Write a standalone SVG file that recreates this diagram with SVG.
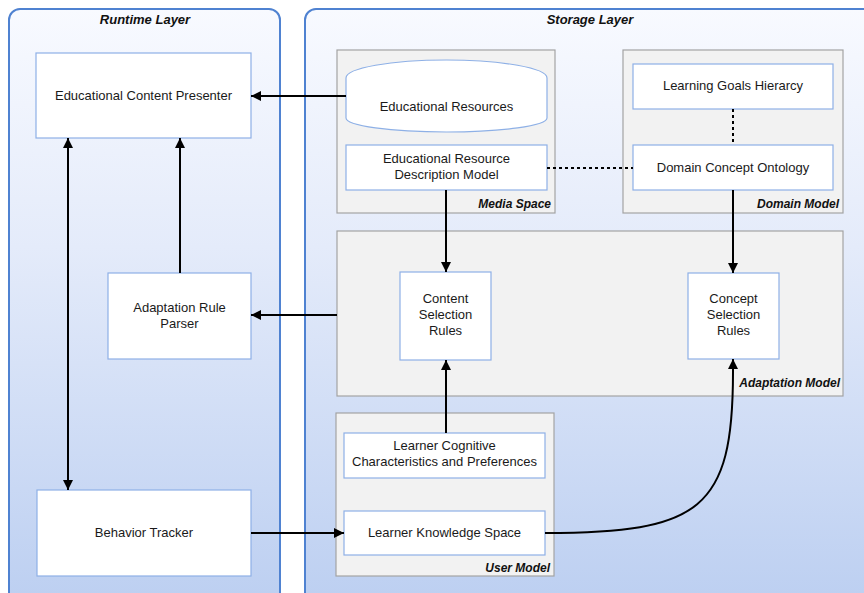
<svg xmlns="http://www.w3.org/2000/svg" width="864" height="593" viewBox="0 0 864 593">
  <defs>
    <linearGradient id="layerFill" x1="0" y1="0" x2="0" y2="1">
      <stop offset="0" stop-color="#f8faff"/>
      <stop offset="0.4" stop-color="#e4ebfa"/>
      <stop offset="1" stop-color="#bccff1"/>
    </linearGradient>
    <marker id="arrow" viewBox="0 0 10 10" refX="10" refY="5" markerWidth="11" markerHeight="10" markerUnits="userSpaceOnUse" orient="auto-start-reverse">
      <path d="M0,0 L10,5 L0,10 Z" fill="#000"/>
    </marker>
    <style>
      .layer { fill: url(#layerFill); stroke: #4f82d1; stroke-width: 2; }
      .group { fill: #f2f2f2; stroke: #a3a3a3; stroke-width: 1.2; }
      .box { fill: #ffffff; stroke: #8eb0e6; stroke-width: 1.2; }
      .label { font-family: "Liberation Sans", Arial, sans-serif; font-size: 13px; fill: #1a1a1a; text-anchor: middle; }
      .title { font-family: "Liberation Sans", Arial, sans-serif; font-size: 13px; font-weight: bold; font-style: italic; fill: #111; text-anchor: middle; }
      .tag { font-family: "Liberation Sans", Arial, sans-serif; font-size: 12px; font-weight: bold; font-style: italic; fill: #111; text-anchor: end; }
      .link { fill: none; stroke: #000; stroke-width: 2; }
      .dotted { fill: none; stroke: #000; stroke-width: 2; stroke-dasharray: 3 3; }
    </style>
  </defs>

  <!-- Layers -->
  <g id="runtime-layer">
    <rect class="layer" x="9" y="9" width="271" height="596" rx="11"/>
    <text class="title" x="145" y="24">Runtime Layer</text>
  </g>
  <g id="storage-layer">
    <rect class="layer" x="305" y="9" width="580" height="596" rx="11"/>
    <text class="title" x="590" y="24">Storage Layer</text>
  </g>

  <!-- Storage sub-models -->
  <g id="media-space">
    <rect class="group" x="337" y="50" width="218" height="163"/>
    <text class="tag" x="551" y="208">Media Space</text>
  </g>
  <g id="domain-model">
    <rect class="group" x="623" y="50" width="220" height="163"/>
    <text class="tag" x="839" y="208">Domain Model</text>
  </g>
  <g id="adaptation-model">
    <rect class="group" x="337" y="231" width="506" height="165"/>
    <text class="tag" x="840" y="387">Adaptation Model</text>
  </g>
  <g id="user-model">
    <rect class="group" x="336" y="413" width="218" height="163"/>
    <text class="tag" x="550" y="572">User Model</text>
  </g>

  <!-- Runtime nodes -->
  <g id="content-presenter">
    <rect class="box" x="36" y="53" width="215" height="85"/>
    <text class="label" x="143.5" y="100">Educational Content Presenter</text>
  </g>
  <g id="rule-parser">
    <rect class="box" x="108" y="273" width="143" height="86"/>
    <text class="label" x="179.5" y="312">Adaptation Rule</text>
    <text class="label" x="179.5" y="328">Parser</text>
  </g>
  <g id="behavior-tracker">
    <rect class="box" x="37" y="490" width="214" height="86"/>
    <text class="label" x="144" y="537">Behavior Tracker</text>
  </g>

  <!-- Storage nodes -->
  <g id="educational-resources">
    <path class="box" d="M346,78 A100.5,18 0 0 1 547,78 L547,118 A100.5,14 0 0 1 346,118 Z"/>
    <text class="label" x="446.5" y="111">Educational Resources</text>
  </g>
  <g id="resource-description-model">
    <rect class="box" x="346" y="145" width="201" height="45"/>
    <text class="label" x="446.5" y="163">Educational Resource</text>
    <text class="label" x="446.5" y="179">Description Model</text>
  </g>
  <g id="learning-goals">
    <rect class="box" x="633" y="64" width="200" height="45"/>
    <text class="label" x="733" y="90">Learning Goals Hierarcy</text>
  </g>
  <g id="concept-ontology">
    <rect class="box" x="633" y="145" width="200" height="45"/>
    <text class="label" x="733" y="172">Domain Concept Ontology</text>
  </g>
  <g id="content-rules">
    <rect class="box" x="400" y="272" width="91" height="88"/>
    <text class="label" x="445.5" y="303">Content</text>
    <text class="label" x="445.5" y="319">Selection</text>
    <text class="label" x="445.5" y="335">Rules</text>
  </g>
  <g id="concept-rules">
    <rect class="box" x="688" y="273" width="91" height="86"/>
    <text class="label" x="733.5" y="303">Concept</text>
    <text class="label" x="733.5" y="319">Selection</text>
    <text class="label" x="733.5" y="335">Rules</text>
  </g>
  <g id="cognitive-characteristics">
    <rect class="box" x="344" y="433" width="201" height="45"/>
    <text class="label" x="444.5" y="450">Learner Cognitive</text>
    <text class="label" x="444.5" y="466">Characteristics and Preferences</text>
  </g>
  <g id="knowledge-space">
    <rect class="box" x="344" y="511" width="201" height="44"/>
    <text class="label" x="444.5" y="537">Learner Knowledge Space</text>
  </g>

  <!-- Connectors -->
  <g id="connectors">
    <line class="link" x1="346" y1="96" x2="251" y2="96" marker-end="url(#arrow)"/>
    <line class="link" x1="68" y1="138" x2="68" y2="490" marker-start="url(#arrow)" marker-end="url(#arrow)"/>
    <line class="link" x1="180" y1="273" x2="180" y2="138" marker-end="url(#arrow)"/>
    <line class="link" x1="337" y1="315" x2="251" y2="315" marker-end="url(#arrow)"/>
    <line class="link" x1="251" y1="533" x2="344" y2="533" marker-end="url(#arrow)"/>
    <line class="link" x1="446" y1="190" x2="446" y2="272" marker-end="url(#arrow)"/>
    <line class="link" x1="733" y1="190" x2="733" y2="273" marker-end="url(#arrow)"/>
    <line class="link" x1="446" y1="433" x2="446" y2="360" marker-end="url(#arrow)"/>
    <path class="link" d="M545,533 C700,533 733,510 733,372 L733,359" marker-end="url(#arrow)"/>
    <line class="dotted" x1="547" y1="168" x2="633" y2="168"/>
    <line class="dotted" x1="733" y1="109" x2="733" y2="145"/>
  </g>
</svg>
